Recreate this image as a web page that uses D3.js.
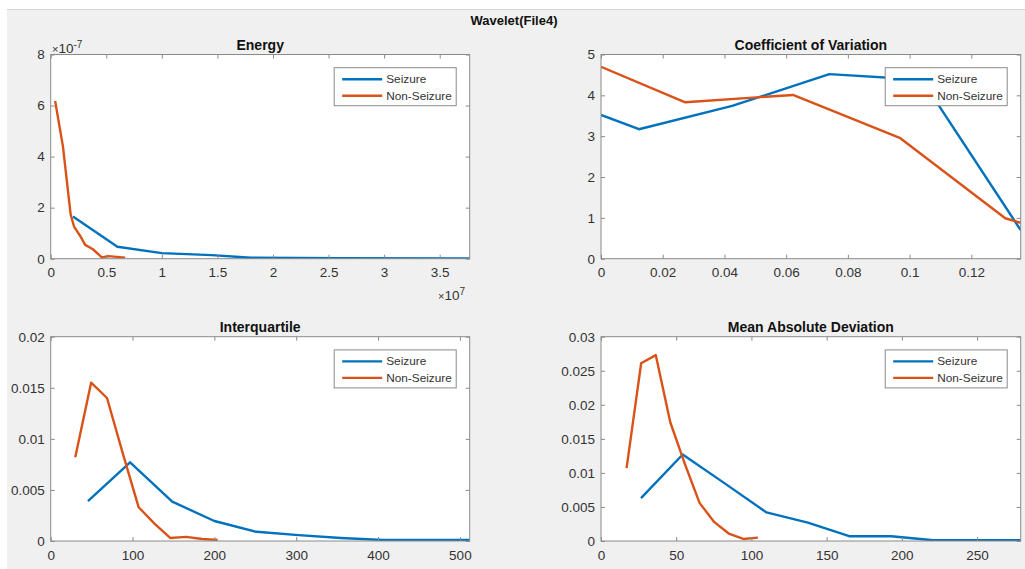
<!DOCTYPE html>
<html>
<head>
<meta charset="utf-8">
<script src="https://cdn.jsdelivr.net/npm/d3@7"></script>
<style>
  body { margin: 0; background: #fff; }
  text { font-family: "Liberation Sans", Arial, sans-serif; }
</style>
</head>
<body>
<script>
const W = 1025, H = 569
const blue = '#0072bd', orange = '#d95319'
const seriesNames = ['Seizure', 'Non-Seizure']

// Energy
const energyX_seizure = [0.2e7, 0.6e7, 1.0e7, 1.45e7, 1.8e7, 2.6e7, 3.77e7]
const energyY_seizure = [1.65e-7, 0.47e-7, 0.22e-7, 0.14e-7, 0.04e-7, 0.02e-7, 0.01e-7]
const energyX_non = [0.04e7, 0.11e7, 0.18e7, 0.21e7, 0.27e7, 0.31e7, 0.38e7, 0.46e7, 0.52e7, 0.67e7]
const energyY_non = [6.18e-7, 4.4e-7, 1.72e-7, 1.26e-7, 0.86e-7, 0.54e-7, 0.37e-7, 0.05e-7, 0.1e-7, 0.04e-7]
const energyXTicks = [0, 0.5e7, 1e7, 1.5e7, 2e7, 2.5e7, 3e7, 3.5e7]
const energyYTicks = [0, 2e-7, 4e-7, 6e-7, 8e-7]

// Coefficient of Variation
const cvX_seizure = [0, 0.0123, 0.0425, 0.074, 0.104, 0.136]
const cvY_seizure = [3.52, 3.17, 3.74, 4.52, 4.38, 0.7]
const cvX_non = [0, 0.0273, 0.0622, 0.097, 0.131, 0.136]
const cvY_non = [4.7, 3.83, 4.01, 2.95, 0.99, 0.88]
const cvXTicks = [0, 0.02, 0.04, 0.06, 0.08, 0.1, 0.12]
const cvYTicks = [0, 1, 2, 3, 4, 5]

// Interquartile
const iqrX_seizure = [45.5, 97, 148.5, 200, 251.5, 303, 354.5, 406, 457.5, 512]
const iqrY_seizure = [0.0039, 0.0077, 0.00385, 0.00196, 0.0009, 0.00058, 0.0003, 0.0001, 0.0001, 0.0001]
const iqrX_non = [30, 49.4, 68.8, 88, 107.5, 126.8, 146, 165.5, 185, 204]
const iqrY_non = [0.0082, 0.0155, 0.014, 0.0086, 0.0033, 0.0017, 0.0003, 0.0004, 0.0002, 0.0001]
const iqrXTicks = [0, 100, 200, 300, 400, 500]
const iqrYTicks = [0, 0.005, 0.01, 0.015, 0.02]

// Mean Absolute Deviation
const madX_seizure = [26.6, 54.3, 82, 110, 137.5, 165, 193, 221, 248, 279]
const madY_seizure = [0.0063, 0.0127, 0.0085, 0.0042, 0.0027, 0.0007, 0.0007, 0.0001, 0.0001, 0.0001]
const madX_non = [17, 26.7, 36.4, 46.1, 55.8, 65.5, 75.2, 84.9, 94.6, 104.3]
const madY_non = [0.0107, 0.0261, 0.0273, 0.0174, 0.0113, 0.0056, 0.0028, 0.0011, 0.0003, 0.0005]
const madXTicks = [0, 50, 100, 150, 200, 250]
const madYTicks = [0, 0.005, 0.01, 0.015, 0.02, 0.025, 0.03]

const svg = d3.select('body').append('svg')
  .attr('width', W)
  .attr('height', H)

// figure background
svg.append('rect').attr('x', 7).attr('y', 9).attr('width', W - 7).attr('height', H - 9).attr('fill', '#f0f0f0')
svg.append('line').attr('x1', 7).attr('x2', W).attr('y1', 9.5).attr('y2', 9.5).attr('stroke', '#d6d6d6')

svg.append('text')
  .attr('x', 514).attr('y', 24.5)
  .attr('text-anchor', 'middle')
  .attr('font-size', 13).attr('font-weight', 'bold').attr('fill', '#111')
  .text('Wavelet(File4)')

const num = d => String(+d.toFixed(6))

function panel(cfg) {
  const {left, right, top, bottom} = cfg
  const x = d3.scaleLinear().domain(cfg.xDomain).range([left, right])
  const y = d3.scaleLinear().domain(cfg.yDomain).range([bottom, top])
  const g = svg.append('g')

  g.append('rect')
    .attr('x', left).attr('y', top)
    .attr('width', right - left).attr('height', bottom - top)
    .attr('fill', '#fff')

  const clipId = 'clip' + cfg.id
  g.append('clipPath').attr('id', clipId)
    .append('rect')
    .attr('x', left).attr('y', top - 2)
    .attr('width', right - left).attr('height', bottom - top + 2)

  const line = d3.line().x(d => x(d[0])).y(d => y(d[1]))
  cfg.series.forEach(function (s) {
    const pts = s.xs.map((v, i) => [v, s.ys[i]])
    g.append('path')
      .attr('d', line(pts))
      .attr('fill', 'none')
      .attr('stroke', s.color)
      .attr('stroke-width', 2.4)
      .attr('stroke-linejoin', 'round')
      .attr('clip-path', 'url(#' + clipId + ')')
  })

  // axes with inward ticks
  const ax = g.append('g').attr('transform', 'translate(0,' + bottom + ')')
    .call(d3.axisBottom(x).tickValues(cfg.xTicks).tickFormat(cfg.xFormat || num).tickSizeInner(-4).tickSizeOuter(0).tickPadding(9))
  const axT = g.append('g').attr('transform', 'translate(0,' + top + ')')
    .call(d3.axisTop(x).tickValues(cfg.xTicks).tickFormat('').tickSizeInner(-4).tickSizeOuter(0))
  const ay = g.append('g').attr('transform', 'translate(' + left + ',0)')
    .call(d3.axisLeft(y).tickValues(cfg.yTicks).tickFormat(cfg.yFormat || num).tickSizeInner(-4).tickSizeOuter(0).tickPadding(6))
  const ayR = g.append('g').attr('transform', 'translate(' + right + ',0)')
    .call(d3.axisRight(y).tickValues(cfg.yTicks).tickFormat('').tickSizeInner(-4).tickSizeOuter(0))
  ;[ax, axT, ay, ayR].forEach(function (a) {
    a.select('.domain').remove()
    a.selectAll('line').attr('stroke', '#8a8a8a')
    a.selectAll('text').attr('font-size', 13.5).attr('fill', '#333').attr('font-family', '"Liberation Sans", Arial, sans-serif')
  })

  g.append('rect')
    .attr('x', left).attr('y', top)
    .attr('width', right - left).attr('height', bottom - top)
    .attr('fill', 'none').attr('stroke', '#8a8a8a').attr('stroke-width', 1)

  g.append('text')
    .attr('x', (left + right) / 2).attr('y', top - 5)
    .attr('text-anchor', 'middle')
    .attr('font-size', 14).attr('font-weight', 'bold').attr('fill', '#111')
    .text(cfg.title)

  // legend
  const lg = g.append('g').attr('transform', 'translate(' + (right - 135.5) + ',' + (top + 13.2) + ')')
  lg.append('rect')
    .attr('width', 122).attr('height', 38)
    .attr('fill', '#fff').attr('stroke', '#8a8a8a')
  cfg.series.forEach(function (s, i) {
    const yy = 11.5 + i * 16.5
    lg.append('line').attr('x1', 8).attr('x2', 48).attr('y1', yy).attr('y2', yy)
      .attr('stroke', s.color).attr('stroke-width', 2.4)
    lg.append('text').attr('x', 52).attr('y', yy + 4)
      .attr('font-size', 11.8).attr('fill', '#333')
      .text(s.name)
  })

  return g
}

const rows = [{top: 54.5, bottom: 258.7}, {top: 336.7, bottom: 541}]
const cols = [{left: 50.7, right: 469.7}, {left: 601, right: 1020.7}]

const gE = panel({
  id: 'E', title: 'Energy', ...cols[0], ...rows[0],
  xDomain: [0, 3.77e7], yDomain: [0, 8e-7],
  xTicks: energyXTicks, yTicks: energyYTicks,
  xFormat: d => num(d / 1e7), yFormat: d => num(d / 1e-7),
  series: [
    {name: seriesNames[0], color: blue, xs: energyX_seizure, ys: energyY_seizure},
    {name: seriesNames[1], color: orange, xs: energyX_non, ys: energyY_non}
  ]
})
// exponent labels
const yExp = gE.append('text').attr('x', 52).attr('y', 53).attr('font-size', 13.5).attr('fill', '#333')
yExp.append('tspan').attr('font-size', 11).text('×')
yExp.append('tspan').text('10')
yExp.append('tspan').attr('dy', -5).attr('font-size', 10).text('-7')
const xExp = gE.append('text').attr('x', 438).attr('y', 299.5).attr('font-size', 13.5).attr('fill', '#333')
xExp.append('tspan').attr('font-size', 11).text('×')
xExp.append('tspan').text('10')
xExp.append('tspan').attr('dy', -5).attr('font-size', 10).text('7')

panel({
  id: 'C', title: 'Coefficient of Variation', ...cols[1], ...rows[0],
  xDomain: [0, 0.136], yDomain: [0, 5],
  xTicks: cvXTicks, yTicks: cvYTicks,
  series: [
    {name: seriesNames[0], color: blue, xs: cvX_seizure, ys: cvY_seizure},
    {name: seriesNames[1], color: orange, xs: cvX_non, ys: cvY_non}
  ]
})

panel({
  id: 'I', title: 'Interquartile', ...cols[0], ...rows[1],
  xDomain: [0, 512], yDomain: [0, 0.02],
  xTicks: iqrXTicks, yTicks: iqrYTicks,
  series: [
    {name: seriesNames[0], color: blue, xs: iqrX_seizure, ys: iqrY_seizure},
    {name: seriesNames[1], color: orange, xs: iqrX_non, ys: iqrY_non}
  ]
})

panel({
  id: 'M', title: 'Mean Absolute Deviation', ...cols[1], ...rows[1],
  xDomain: [0, 279], yDomain: [0, 0.03],
  xTicks: madXTicks, yTicks: madYTicks,
  series: [
    {name: seriesNames[0], color: blue, xs: madX_seizure, ys: madY_seizure},
    {name: seriesNames[1], color: orange, xs: madX_non, ys: madY_non}
  ]
})
</script>
</body>
</html>
